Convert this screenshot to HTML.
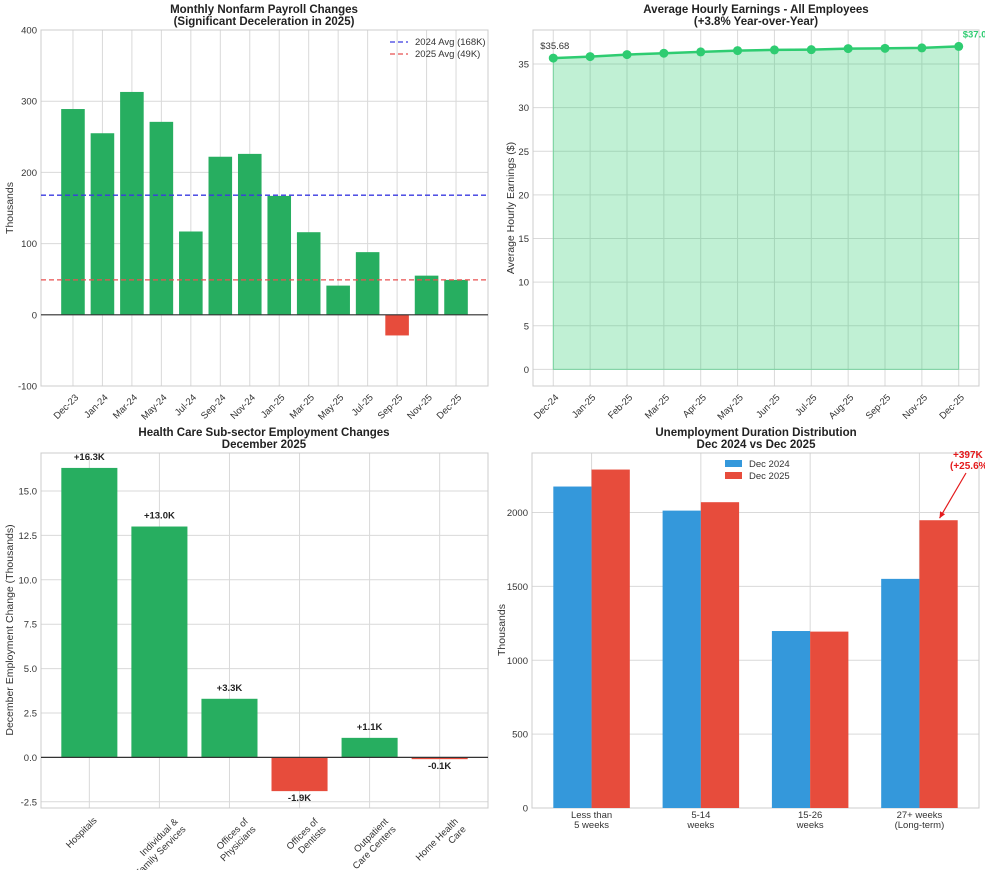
<!DOCTYPE html>
<html><head><meta charset="utf-8">
<style>
html,body{margin:0;padding:0;background:#fff;}
svg{display:block;font-family:"Liberation Sans",Arial,sans-serif;}
.t{font-size:11.5px;font-weight:bold;fill:#222;}
.tk{font-size:9.5px;fill:#333;}
.grid{stroke:#d9d9d9;stroke-width:1;}
</style></head>
<body>
<svg id="root" width="985" height="870" viewBox="0 0 985 870"></svg>
<script>
// ---- Chart 1 data ----
const payrollMonths = ["Dec-23","Jan-24","Mar-24","May-24","Jul-24","Sep-24","Nov-24","Jan-25","Mar-25","May-25","Jul-25","Sep-25","Nov-25","Dec-25"];
const payrollValues = [289,255,313,271,117,222,226,167,116,41,88,-29,55,49];
const payrollTicks = [-100,0,100,200,300,400];
const avg2024 = 168;
const avg2025 = 49;
// ---- Chart 2 data ----
const earnMonths = ["Dec-24","Jan-25","Feb-25","Mar-25","Apr-25","May-25","Jun-25","Jul-25","Aug-25","Sep-25","Nov-25","Dec-25"];
const earnValues = [35.68,35.85,36.08,36.24,36.39,36.54,36.62,36.65,36.77,36.8,36.85,37.02];
const earnTicks = [0,5,10,15,20,25,30,35];
// ---- Chart 3 data ----
const hcCategories = [["Hospitals"],["Individual &","Family Services"],["Offices of","Physicians"],["Offices of","Dentists"],["Outpatient","Care Centers"],["Home Health","Care"]];
const hcValues = [16.3,13.0,3.3,-1.9,1.1,-0.1];
const hcTicks = [-2.5,0,2.5,5,7.5,10,12.5,15];
// ---- Chart 4 data ----
const durCategories = [["Less than","5 weeks"],["5-14","weeks"],["15-26","weeks"],["27+ weeks","(Long-term)"]];
const dur2024 = [2176,2013,1198,1551];
const dur2025 = [2291,2070,1194,1948];
const durTicks = [0,500,1000,1500,2000];

const NS="http://www.w3.org/2000/svg";
const root=document.getElementById('root');
function el(tag,attrs,parent,text){const e=document.createElementNS(NS,tag);for(const k in attrs)e.setAttribute(k,attrs[k]);if(text!==undefined)e.textContent=text;(parent||root).appendChild(e);return e;}
function lin(d0,d1,r0,r1){return v=>r0+(v-d0)*(r1-r0)/(d1-d0);}
function frame(g,x0,y0,x1,y1){const r=el('rect',{x:x0,y:y0,width:x1-x0,height:y1-y0,fill:'none',stroke:'#ccc','stroke-width':1},g);}
function title(g,cx,y,l1,l2){const t=el('text',{x:cx,y:y,'text-anchor':'middle',class:'t'},g,l1);const t2=el('text',{x:cx,y:y+12,'text-anchor':'middle',class:'t'},g,l2);}
function ylab(g,x,y,txt){const t=el('text',{x:x,y:y,transform:`rotate(-90 ${x} ${y})`,'text-anchor':'middle',style:'font-size:10.5px;fill:#333'},g,txt);}
function rotLabel(g,x,y,lines){const t=el('text',{transform:`translate(${x},${y}) rotate(-45)`,'text-anchor':'end',class:'tk'},g);lines.forEach((l,i)=>{el('tspan',{x:0,dy:i?11:0},t,l);});
 if(lines.length>1){t.setAttribute('transform',`translate(${x+11},${y+1}) rotate(-45)`);}
}

// ===== Chart 1 =====
(function(){
const g=el('g',{});
const L=41,R=488,T=30,B=386;
const x=lin(-1.085,payrollMonths.length-1+1.085,L,R), y=lin(-100,400,B,T);
payrollTicks.forEach(v=>{el('line',{x1:L,x2:R,y1:y(v),y2:y(v),class:'grid'},g);const t=el('text',{x:L-4,y:y(v)+3.5,'text-anchor':'end',class:'tk'},g,v);});
payrollMonths.forEach((m,i)=>{el('line',{x1:x(i),x2:x(i),y1:T,y2:B,class:'grid'},g);rotLabel(g,x(i)+6,B+12,[m]);});
frame(g,L,T,R,B);
const bw=(x(1)-x(0))*0.8;
payrollValues.forEach((v,i)=>{const r=el('rect',{x:x(i)-bw/2,y:Math.min(y(v),y(0)),width:bw,height:Math.abs(y(v)-y(0)),fill:v>=0?'#27ae60':'#e74c3c'},g);});
el('line',{x1:L,x2:R,y1:y(0),y2:y(0),stroke:'#333','stroke-width':1.2},g);
const a1=el('line',{x1:L,x2:R,y1:y(avg2024),y2:y(avg2024),stroke:'#3a3ae0','stroke-width':1.3,'stroke-dasharray':'5,3'},g);
const a2=el('line',{x1:L,x2:R,y1:y(avg2025),y2:y(avg2025),stroke:'#e85050','stroke-width':1.3,'stroke-dasharray':'5,3'},g);
const lg=el('g',{},g);
el('line',{x1:390,x2:408,y1:42,y2:42,stroke:'#3a3ae0','stroke-width':1.3,'stroke-dasharray':'5,3'},lg);
el('text',{x:415,y:45,class:'tk'},lg,`2024 Avg (${avg2024}K)`);
el('line',{x1:390,x2:408,y1:54,y2:54,stroke:'#e85050','stroke-width':1.3,'stroke-dasharray':'5,3'},lg);
el('text',{x:415,y:57,class:'tk'},lg,`2025 Avg (${avg2025}K)`);
title(g,264,13,'Monthly Nonfarm Payroll Changes','(Significant Deceleration in 2025)');
ylab(g,13,208,'Thousands');
})();

// ===== Chart 2 =====
(function(){
const g=el('g',{});
const L=533,R=979,T=30,B=386;
const x=lin(-0.55,earnMonths.length-1+0.55,L,R), y=lin(-1.9,38.9,B,T);
earnTicks.forEach(v=>{el('line',{x1:L,x2:R,y1:y(v),y2:y(v),class:'grid'},g);const t=el('text',{x:L-4,y:y(v)+3.5,'text-anchor':'end',class:'tk'},g,v);});
earnMonths.forEach((m,i)=>{el('line',{x1:x(i),x2:x(i),y1:T,y2:B,class:'grid'},g);rotLabel(g,x(i)+6,B+12,[m]);});
frame(g,L,T,R,B);
let d=`M${x(0)},${y(0)}`;earnValues.forEach((v,i)=>d+=` L${x(i)},${y(v)}`);d+=` L${x(earnValues.length-1)},${y(0)} Z`;
const a=el('path',{d:d,fill:'#2ecc71','fill-opacity':0.3,stroke:'#2ecc71','stroke-opacity':0.5},g);
const pts=earnValues.map((v,i)=>`${x(i)},${y(v)}`).join(' ');
const ln=el('polyline',{points:pts,fill:'none',stroke:'#2ecc71','stroke-width':2.5},g);
earnValues.forEach((v,i)=>{const c=el('circle',{cx:x(i),cy:y(v),r:4.5,fill:'#2ecc71'},g);});
const n=earnValues.length-1;
const f=el('text',{x:x(0)-13,y:y(earnValues[0])-9,class:'tk'},g,'$'+earnValues[0].toFixed(2));
const lb=el('text',{x:x(n)+4,y:y(earnValues[n])-9,class:'tk',style:'fill:#2ecc71;font-weight:bold'},g,'$'+earnValues[n].toFixed(2));
title(g,756,13,'Average Hourly Earnings - All Employees','(+3.8% Year-over-Year)');
ylab(g,514,208,'Average Hourly Earnings ($)');
})();

// ===== Chart 3 =====
(function(){
const g=el('g',{});
const L=41,R=488,T=453,B=808;
const x=lin(-0.69,hcValues.length-1+0.69,L,R), y=lin(-2.85,17.14,B,T);
hcTicks.forEach(v=>{el('line',{x1:L,x2:R,y1:y(v),y2:y(v),class:'grid'},g);const t=el('text',{x:L-4,y:y(v)+3.5,'text-anchor':'end',class:'tk'},g,v.toFixed(1));});
hcCategories.forEach((c,i)=>{el('line',{x1:x(i),x2:x(i),y1:T,y2:B,class:'grid'},g);rotLabel(g,x(i)+8,B+13,c);});
frame(g,L,T,R,B);
const bw=(x(1)-x(0))*0.8;
hcValues.forEach((v,i)=>{const r=el('rect',{x:x(i)-bw/2,y:Math.min(y(v),y(0)),width:bw,height:Math.abs(y(v)-y(0)),fill:v>=0?'#27ae60':'#e74c3c'},g);
 const t=el('text',{x:x(i),y:v>=0?y(v)-8:y(v)+10,'text-anchor':'middle',style:'font-size:9.5px;font-weight:bold;fill:#222'},g,(v>=0?'+':'')+v.toFixed(1)+'K');});
el('line',{x1:L,x2:R,y1:y(0),y2:y(0),stroke:'#333','stroke-width':1.2},g);
title(g,264,436,'Health Care Sub-sector Employment Changes','December 2025');
ylab(g,13,630,'December Employment Change (Thousands)');
})();

// ===== Chart 4 =====
(function(){
const g=el('g',{});
const L=532,R=979,T=453,B=808;
const x=lin(-0.545,durCategories.length-1+0.545,L,R), y=lin(0,2403,B,T);
durTicks.forEach(v=>{el('line',{x1:L,x2:R,y1:y(v),y2:y(v),class:'grid'},g);const t=el('text',{x:L-4,y:y(v)+3.5,'text-anchor':'end',class:'tk'},g,v);});
const step=x(1)-x(0), bw=step*0.35;
durCategories.forEach((c,i)=>{el('line',{x1:x(i),x2:x(i),y1:T,y2:B,class:'grid'},g);const t=el('text',{x:x(i),y:B+10,'text-anchor':'middle',class:'tk'},g);c.forEach((l,j)=>el('tspan',{x:x(i),dy:j?10:0},t,l));});
frame(g,L,T,R,B);
dur2024.forEach((v,i)=>{const r=el('rect',{x:x(i)-bw,y:y(v),width:bw,height:y(0)-y(v),fill:'#3498db'},g);});
dur2025.forEach((v,i)=>{const r=el('rect',{x:x(i),y:y(v),width:bw,height:y(0)-y(v),fill:'#e74c3c'},g);});
const lg=el('g',{},g);
el('rect',{x:725,y:460,width:17,height:7,fill:'#3498db'},lg);el('text',{x:749,y:467,class:'tk'},lg,'Dec 2024');
el('rect',{x:725,y:472,width:17,height:7,fill:'#e74c3c'},lg);el('text',{x:749,y:479,class:'tk'},lg,'Dec 2025');
const i3=3, diff=dur2025[i3]-dur2024[i3];
const ann=el('text',{x:953,y:458,style:'font-size:10px;font-weight:bold;fill:#e41a1c'},g);
el('tspan',{x:953,dy:0},ann,'+'+diff+'K');el('tspan',{x:950,dy:11},ann,'(+'+(diff/dur2024[i3]*100).toFixed(1)+'%)');
const ax=x(i3)+bw/2+1, ay=y(dur2025[i3])-2;
const ar=el('line',{x1:966,y1:473,x2:ax,y2:ay,stroke:'#e41a1c','stroke-width':1.2},g);
el('path',{d:`M${ax},${ay} l0.5,-7 l5,3 Z`,fill:'#e41a1c'},g);
title(g,756,436,'Unemployment Duration Distribution','Dec 2024 vs Dec 2025');
ylab(g,505,630,'Thousands');
})();
</script>
</body></html>
